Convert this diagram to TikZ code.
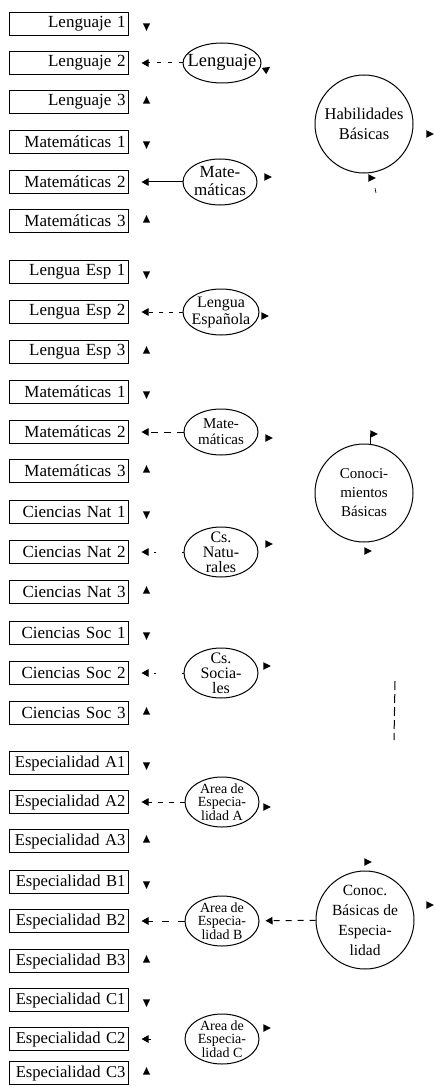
\documentclass[tikz,border=0pt]{standalone}
\usepackage{fontspec}
\setmainfont{Liberation Serif}
\usetikzlibrary{arrows.meta,shapes.geometric,calc}

% small filled arrowheads left over from the path diagram
\newcommand\tipdown[1]{\fill (#1) +(-3.6,-3.6) -- +(3.6,-3.6) -- +(0,3.8) -- cycle;}
\newcommand\tipup[1]{\fill (#1) +(-3.6,3.6) -- +(3.6,3.6) -- +(0,-3.8) -- cycle;}
\newcommand\tipright[1]{\fill (#1) +(-3.6,-3.8) -- +(-3.6,3.8) -- +(3.8,0) -- cycle;}
\newcommand\tiprot[2]{\fill[shift={(#1)},rotate=#2] (3.8,0) -- (-3.6,3.8) -- (-3.6,-3.8) -- cycle;}

\tikzset{
  item/.style={draw, line width=1pt, minimum height=23pt, text width=114pt,
    align=right, inner xsep=2.5pt, inner ysep=0pt,
    font=\fontsize{17}{17}\selectfont},
  spec/.style={item, font=\fontsize{16.6}{17}\selectfont},
  latent/.style={draw, ellipse, line width=1pt, inner sep=0pt},
  factor/.style={draw, circle, line width=1pt, minimum size=98pt, inner sep=0pt},
  caption/.style={align=center, inner sep=0pt},
  link/.style={-{Triangle[length=7pt,width=7.5pt]}, line width=1pt, shorten >=13pt},
}

\begin{document}
\begin{tikzpicture}[x=1pt,y=-1pt]
\fill[white] (0,0) rectangle (434,1086);
\useasboundingbox (0,0) rectangle (434,1086);

% ---- observed indicators -------------------------------------------------
\foreach \nm/\yy/\txt in {
  l1/24/Lenguaje 1, l2/63/Lenguaje 2, m1/142/Matemáticas 1, m2/182/Matemáticas 2, m3/221/Matemáticas 3,
  e1/272/Lengua Esp 1, e2/312/Lengua Esp 2, e3/352/Lengua Esp 3,
  n1/392/Matemáticas 1, n2/432/Matemáticas 2, n3/471/Matemáticas 3,
  c1/512/Ciencias Nat 1, c2/552/Ciencias Nat 2, c3/592/Ciencias Nat 3,
  s1/633/Ciencias Soc 1, s2/673/Ciencias Soc 2, s3/713/Ciencias Soc 3}
  \node[item] (\nm) at (68.5,\yy) {\txt\hspace*{2pt}};
\node[item] (l3) at (68.5,102) {Lenguaje 3\hspace*{-2pt}};
\foreach \nm/\yy/\txt in {
  a1/763/Especialidad A1, a2/802/Especialidad A2, a3/841/Especialidad A3,
  b1/882/Especialidad B1, b2/921/Especialidad B2, b3/961/Especialidad B3,
  k1/1000/Especialidad C1, k2/1039/Especialidad C2, k3/1073/Especialidad C3}
  \node[spec] (\nm) at (68.5,\yy) {\txt};

% ---- first order factors -------------------------------------------------
\node[latent, minimum width=78pt, minimum height=40pt] (lg) at (222,63) {};
\node[caption, font=\fontsize{18.5}{18}\selectfont] (lgt) at (222,62) {Lenguaje};
\node[latent, minimum width=74pt, minimum height=46pt] (mt) at (220,182) {};
\node[caption, font=\fontsize{17}{18}\selectfont] (mtt) at (220,181) {Mate-\\máticas};

\node[latent, minimum width=76pt, minimum height=46pt] (le) at (221,312) {};
\node[caption, font=\fontsize{16}{17}\selectfont] (let) at (221,312) {Lengua\\Española};
\node[latent, minimum width=74pt, minimum height=46pt] (mb) at (221,432) {};
\node[caption, font=\fontsize{15}{16}\selectfont] (mbt) at (221,432) {Mate-\\máticas};
\node[latent, minimum width=74pt, minimum height=50pt] (cn) at (221,552) {};
\node[caption, font=\fontsize{16}{15}\selectfont] (cnt) at (221,552) {Cs.\\Natu-\\rales};
\node[latent, minimum width=74pt, minimum height=50pt] (cs) at (221,673) {};
\node[caption, font=\fontsize{16}{15}\selectfont] (cst) at (221,673) {Cs.\\Socia-\\les};
\node[latent, minimum width=74pt, minimum height=50pt] (ea) at (222,802) {};
\node[caption, font=\fontsize{14}{13.5}\selectfont] (eat) at (222,802) {Area de\\Especia-\\lidad A};
\node[latent, minimum width=74pt, minimum height=50pt] (eb) at (222,921) {};
\node[caption, font=\fontsize{14}{13.5}\selectfont] (ebt) at (222,921) {Area de\\Especia-\\lidad B};
\node[latent, minimum width=74pt, minimum height=50pt] (ec) at (222,1039) {};
\node[caption, font=\fontsize{14}{13.5}\selectfont] (ect) at (222,1039) {Area de\\Especia-\\lidad C};

% ---- second order factors ------------------------------------------------
\node[factor] (hb) at (364,124) {};
\node[caption, font=\fontsize{16.5}{20}\selectfont] (hbt) at (364,124) {Habilidades\\Básicas};
\node[factor] (cb) at (364,493) {};
\node[caption, font=\fontsize{15}{19}\selectfont] (cbt) at (364,493) {Conoci-\\mientos\\Básicas};
\node[factor] (ce) at (365,920) {};
\node[caption, font=\fontsize{15.5}{20}\selectfont] (cet) at (365,920) {Conoc.\\Básicas de\\Especia-\\lidad};

% ---- loadings that are still drawn --------------------------------------
\draw[link, dash pattern=on 4pt off 7pt] (lg) -- (l2);
\draw[link] (mt) -- (m2);
\draw[link, dash pattern=on 4pt off 6pt] (le) -- (e2);
\draw[link, dash pattern=on 7pt off 6pt] (mb) -- (n2);
\draw[link, dash pattern=on 2pt off 26pt] (cn) -- (c2);
\draw[link, dash pattern=on 2pt off 26pt] (cs) -- (s2);
\draw[link, dash pattern=on 5pt off 6pt] (ea) -- (a2);
\draw[link, dash pattern=on 7pt off 9pt] (eb) -- (b2);
\coordinate (kstub) at (151,1039);
\draw[link] (kstub) -- (k2);
\draw[-{Triangle[length=7pt,width=7.5pt]}, line width=1pt, dash pattern=on 6pt off 6pt, shorten >=6pt] (ce) -- (eb);

% ---- arrowheads beside the indicators ------------------------------------
\foreach \nm in {l1,m1,e1,n1,c1,s1,a1,b1,k1} {\tipdown{$(\nm.east)+(18,3)$}}
\foreach \nm in {l3,m3,e3,n3,c3,s3,a3,b3,k3} {\tipup{$(\nm.east)+(18,-2)$}}

% ---- arrowheads beside the factors --------------------------------------
\tiprot{267,69}{35}
\tipright{268,177}
\tipright{265,316}
\tipright{269,438}
\tipright{269,544}
\tipright{267,666}
\tipright{267,807}
\tipright{267,1028}

\tipright{430,134}
\tipright{372,178}
\draw[line width=0.6pt] (375,188) -- (376,193);

\tipright{374,434}
\draw[line width=1pt] (370.4,434) -- (370.4,444.5);
\tipright{368,551}

\tipright{368,862}
\tipright{430,905}

% ---- faint remainder of a vertical path ---------------------------------
\coordinate (vtop) at (395,681);
\coordinate (vbot) at (394,740);
\draw[line width=1pt, dash pattern=on 9pt off 4pt] (vtop) -- (vbot);
\end{tikzpicture}
\end{document}
